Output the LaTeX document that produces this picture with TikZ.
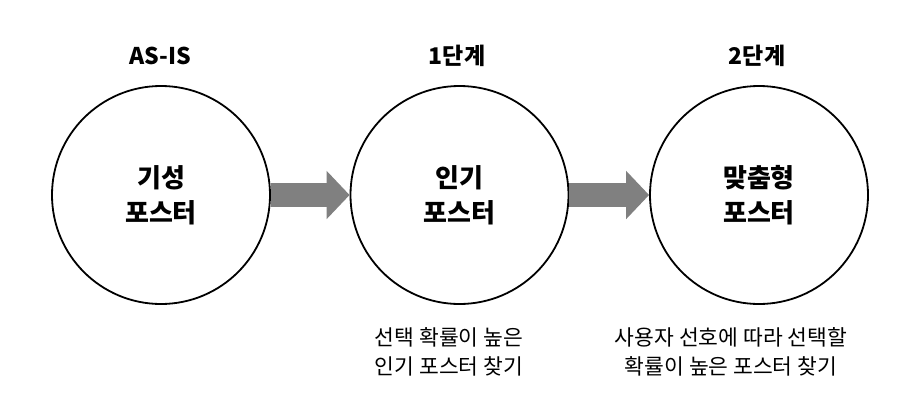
\documentclass[tikz,border=0pt]{standalone}
\usepackage{fontspec}
\setmainfont{Noto Sans CJK KR}
\usetikzlibrary{arrows.meta}
\definecolor{arrgray}{HTML}{808080}
\tikzset{
  stage/.style={circle, draw=black, line width=1.8pt, minimum size=218pt, inner sep=0pt,
    align=center, font=\fontsize{26pt}{35pt}\selectfont\bfseries},
  toplabel/.style={font=\fontsize{23pt}{28pt}\selectfont\bfseries, inner sep=0pt},
  desc/.style={font=\fontsize{21.5pt}{28.5pt}\selectfont, align=center, inner sep=0pt},
  blockarrow/.style={draw=arrgray, line width=24pt, -{Triangle[length=23pt,width=47pt]}, arrgray}
}
\begin{document}
\begin{tikzpicture}[x=1pt,y=-1pt]
\useasboundingbox (0,0) rectangle (916,418);
\node[stage] (c1) at (161,195) {기성\\포스터};
\node[stage] (c2) at (459.5,195) {인기\\포스터};
\node[stage] (c3) at (759,195) {맞춤형\\포스터};
\node[toplabel] (t1) at (160,56) {AS-IS};
\node[toplabel] (t2) at (457,56) {1단계};
\node[toplabel] (t3) at (757,56) {2단계};
\node[desc] (d2) at (449,352) {선택 확률이 높은\\인기 포스터 찾기};
\node[desc] (d3) at (731,352) {사용자 선호에 따라 선택할\\확률이 높은 포스터 찾기};
\draw[blockarrow] (c1.east) -- (c2.west);
\draw[blockarrow] (c2.east) -- (c3.west);
\end{tikzpicture}
\end{document}
